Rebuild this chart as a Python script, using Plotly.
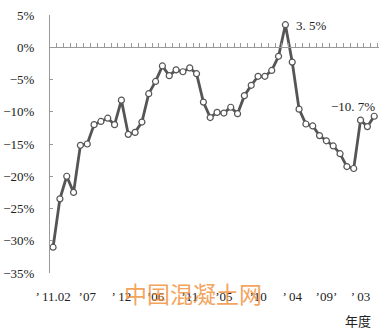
import plotly.graph_objects as go

values = [-31.0, -23.5, -20.0, -22.5, -15.2, -15.0, -12.0, -11.5, -11.0, -12.0,
          -8.2, -13.5, -13.2, -11.6, -7.2, -5.3, -2.9, -4.4, -3.5, -3.8,
          -3.2, -4.1, -8.5, -10.9, -10.1, -10.2, -9.3, -10.3, -7.5, -5.9,
          -4.5, -4.5, -3.6, -1.4, 3.5, -2.3, -9.6, -11.9, -12.2, -13.7,
          -14.5, -15.3, -16.5, -18.5, -18.8, -11.3, -12.3, -10.7]
idx = list(range(len(values)))
tick_idx = [0, 5, 10, 15, 20, 25, 30, 35, 40, 45]
tick_labels = ["’ 11.02", "’07", "’ 12", "’06", "’11", "’05", "’10", "’ 04", "’09’", "’ 03"]
y_ticks = [5, 0, -5, -10, -15, -20, -25, -30, -35]
y_labels = ["5%", "0%", "−5%", "−10%", "−15%", "−20%", "−25%", "−30%", "−35%"]
boundaries = [i + 0.5 for i in idx]

serif = "Liberation Serif, DejaVu Serif, serif"
cjk = "Noto Sans CJK SC"

fig = go.Figure()
fig.add_trace(go.Scatter(
    x=idx, y=values, mode="lines+markers",
    line=dict(color="#555555", width=2.8),
    marker=dict(size=6, color="white", line=dict(color="#555555", width=1.2)),
    hoverinfo="skip", showlegend=False, cliponaxis=False))
fig.add_trace(go.Scatter(x=[], y=[], xaxis="x2", yaxis="y", showlegend=False))

xr = [-0.45, 47.7]
fig.update_layout(
    width=387, height=335,
    margin=dict(l=50, r=8, t=15, b=62, autoexpand=False),
    paper_bgcolor="white", plot_bgcolor="white",
    xaxis=dict(range=xr, tickvals=tick_idx, ticktext=tick_labels,
               showline=False, showgrid=False, zeroline=False, ticks="",
               ticklabelstandoff=14, automargin=False,
               tickfont=dict(family=serif, size=13, color="#222222")),
    xaxis2=dict(range=xr, overlaying="x", side="top", anchor="free",
                position=35 / 40, tickvals=boundaries, showticklabels=False,
                ticks="outside", ticklen=4, tickcolor="#999999", tickwidth=1,
                showline=True, linecolor="#999999", linewidth=1,
                showgrid=False, zeroline=False, automargin=False),
    yaxis=dict(range=[-35, 5], tickvals=y_ticks, ticktext=y_labels,
               showline=True, linecolor="#999999", linewidth=1,
               ticks="inside", ticklen=3, tickcolor="#999999",
               showgrid=False, zeroline=False, ticklabelstandoff=12,
               automargin=False,
               tickfont=dict(family=serif, size=13, color="#222222")),
)

fig.add_annotation(x=idx[34], y=values[34], text="3. 5%", showarrow=False,
                   xanchor="left", xshift=9, yshift=-1,
                   font=dict(family=serif, size=13, color="#222222"))
fig.add_annotation(x=idx[-1], y=values[-1], text="−10. 7%", showarrow=False,
                   xanchor="right", xshift=3, yshift=10,
                   font=dict(family=serif, size=13, color="#222222"))
fig.add_annotation(x=0.435, y=-0.078, xref="paper", yref="paper",
                   xanchor="center", yanchor="middle",
                   text="中国混凝土网", showarrow=False,
                   font=dict(family=cjk, size=23, color="rgba(240,140,50,0.8)"))
fig.add_annotation(x=0.936, y=-0.186, xref="paper", yref="paper",
                   xanchor="center", yanchor="middle",
                   text="年度", showarrow=False,
                   font=dict(family=cjk, size=13, color="#222222"))

fig.write_html("out.html", config={"displayModeBar": False},
               post_script="document.body.style.margin='0';")
